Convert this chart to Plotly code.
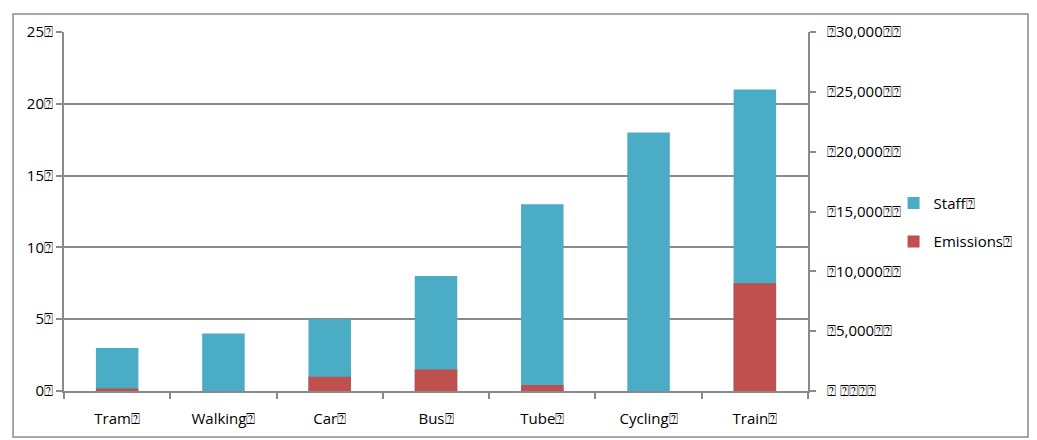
import plotly.graph_objects as go

categories = ["Tram", "Walking", "Car", "Bus", "Tube", "Cycling", "Train"]
staff = [3, 4, 5, 8, 13, 18, 21]
emissions = [200, 0, 1200, 1800, 500, 0, 9000]

box = "\u2370"
cat_labels = [c + box for c in categories]
left_vals = [0, 5, 10, 15, 20, 25]
left_text = [f"{v}{box}" for v in left_vals]
right_vals = [0, 5000, 10000, 15000, 20000, 25000, 30000]
right_text = [f"{box} {box*4}"] + [f"{box}{v:,}{box*2}" for v in right_vals[1:]]

grey = "#8a8a8a"
font = dict(family="Open Sans, Liberation Sans, sans-serif", size=15, color="#000")

fig = go.Figure()
fig.add_trace(go.Bar(x=cat_labels, y=staff, name="Staff" + box, marker=dict(color="#4bacc6", line=dict(width=0)),
                     width=0.4, yaxis="y", legendgroup="a"))
fig.add_trace(go.Bar(x=cat_labels, y=emissions, name="Emissions" + box, marker=dict(color="#c0504d", line=dict(width=0)),
                     width=0.4, yaxis="y2", legendgroup="b"))

fig.update_layout(
    width=1021, height=432,
    margin=dict(l=56, r=221, t=24, b=49, autoexpand=False),
    paper_bgcolor="white", plot_bgcolor="white",
    font=font,
    barmode="overlay",
    showlegend=True,
    legend=dict(x=1.115, y=0.47, xanchor="left", yanchor="middle", font=font,
                tracegroupgap=16, itemwidth=30, bgcolor="rgba(0,0,0,0)", traceorder="grouped"),
    xaxis=dict(showline=True, linecolor=grey, linewidth=2, ticks="outside", tickson="boundaries",
               ticklen=6, tickcolor=grey, tickwidth=2, showgrid=False, tickfont=font,
               ticklabelstandoff=13, automargin=False),
    yaxis=dict(range=[0, 25], tickvals=left_vals, ticktext=left_text, showline=True, linecolor=grey,
               linewidth=2, ticks="outside", ticklen=6, tickcolor=grey, tickwidth=2,
               showgrid=True, gridcolor=grey, gridwidth=2, zeroline=False, tickfont=font, automargin=False),
    yaxis2=dict(range=[0, 30000], tickvals=right_vals, ticktext=right_text, overlaying="y", side="right",
                showline=True, linecolor=grey, linewidth=2, ticks="outside", ticklen=6, tickcolor=grey,
                tickwidth=2, showgrid=False, zeroline=False, tickfont=font, ticklabelstandoff=8,
                automargin=False),
    shapes=[dict(type="rect", xref="paper", yref="paper", x0=-0.0685, x1=1.2957, y0=-0.128, y1=1.05,
                 line=dict(color=grey, width=1.5), fillcolor="rgba(0,0,0,0)", layer="below")],
)

fig.write_html("out.html")
